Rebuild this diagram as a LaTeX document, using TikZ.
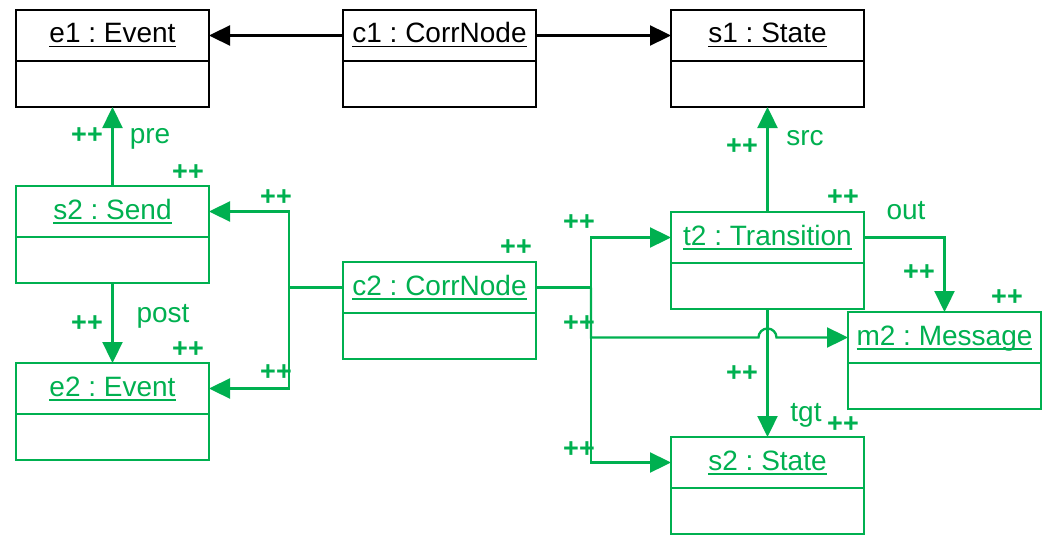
\documentclass[tikz,border=0pt]{standalone}
\usepackage{fontspec}
\setmainfont{Liberation Sans}
\usetikzlibrary{arrows.meta,calc}
\definecolor{umlgreen}{HTML}{00B050}
\frenchspacing

\newcommand\ulx[1]{\setbox0\hbox{#1}\rlap{\rule[-4.5pt]{\wd0}{1.7pt}}\box0}

\tikzset{
  objframe/.style={draw, rectangle, line width=2.9pt, minimum width=193pt,
    minimum height=97pt, inner sep=0pt, outer sep=0pt, anchor=north west},
  objtitle/.style={inner sep=0pt, anchor=base, font=\fontsize{28}{30}\selectfont},
  conn/.style={line width=2.3pt},
  arr/.style={conn, -{Triangle[length=21pt,width=20pt]}},
  mult/.style={font=\bfseries\fontsize{27}{29}\selectfont, inner sep=0pt, text=umlgreen},
  role/.style={font=\fontsize{28}{30}\selectfont, inner sep=0pt, anchor=base, text=umlgreen},
}

\newcommand\objbox[5]{%
  \node[objframe, draw=#5] (#1) at (#2,#3) {};
  \draw[line width=2.9pt, draw=#5] ($(#1.north west)+(0,51)$) -- ($(#1.north east)+(0,51)$);
  \coordinate (#1h) at ($(#1.north)+(0,25.5)$);
  \node[objtitle, text=#5] (#1t) at ($(#1.north)+(0,33)$) {\ulx{#4}};
}

\begin{document}
\begin{tikzpicture}[x=1pt, y=-1pt]
\useasboundingbox (0,0) rectangle (1046,535);

% black objects
\objbox{e1}{16}{10}{e1 : Event}{black}
\objbox{c1}{343}{10}{c1 : CorrNode}{black}
\objbox{s1}{671}{10}{s1 : State}{black}

% green objects
\objbox{s2}{16}{186}{s2 : Send}{umlgreen}
\objbox{e2}{16}{363}{e2 : Event}{umlgreen}
\objbox{c2}{343}{262}{c2 : CorrNode}{umlgreen}
\objbox{t2}{671}{212}{t2 : Transition}{umlgreen}
\objbox{m2}{848}{312}{m2 : Message}{umlgreen}
\objbox{s3}{671}{437}{s2 : State}{umlgreen}

% black links
\draw[arr, black] (c1.west |- c1h) -- (e1.east |- c1h);
\draw[arr, black] (c1.east |- c1h) -- (s1.west |- c1h);

% green links
\begin{scope}[umlgreen]
\draw[arr] (s2.north) -- (e1.south);
\draw[arr] (s2.south) -- (e2.north);

\coordinate (jl) at ($(c2.west |- c2h)+(-54,0)$);
\coordinate (jr) at ($(c2.east |- c2h)+(55,0)$);
\draw[arr] (c2.west |- c2h) -- (jl) |- (s2h -| s2.east);
\draw[arr] (jl) |- (e2h -| e2.east);
\draw[arr] (c2.east |- c2h) -- (jr) |- (t2h -| t2.west);
\draw[arr] (jr) |- (s3h -| s3.west);
\draw[arr] (jr) |- ($(m2h -| t2.south)+(-9,0)$)
   arc[start angle=180, end angle=0, radius=9pt] -- (m2h -| m2.west);

\draw[arr] (t2.north) -- (t2.north |- s1.south);
\draw[arr] (t2.south) -- (t2.south |- s3.north);
\draw[arr] (t2h -| t2.east) -| (m2.north);
\end{scope}

% role names
\node[role] (lpre) at (150,143) {pre};
\node[role] (lpost) at (163,322) {post};
\node[role] (lsrc) at (805,145) {src};
\node[role] (lout) at (906,219) {out};
\node[role] (ltgt) at (806,421) {tgt};

% ++ markers
\node[mult] (p1) at (87,136) {++};
\node[mult] (p2) at (188,173) {++};
\node[mult] (p3) at (87,324) {++};
\node[mult] (p4) at (188,350) {++};
\node[mult] (p5) at (276,198) {++};
\node[mult] (p6) at (276,373) {++};
\node[mult] (p7) at (516,248) {++};
\node[mult] (p8) at (579,223) {++};
\node[mult] (p9) at (579,324) {++};
\node[mult] (p10) at (579,450) {++};
\node[mult] (p11) at (742,147) {++};
\node[mult] (p12) at (843,198) {++};
\node[mult] (p13) at (919,273) {++};
\node[mult] (p14) at (1007,298) {++};
\node[mult] (p15) at (742,374) {++};
\node[mult] (p16) at (843,425) {++};
\end{tikzpicture}
\end{document}
